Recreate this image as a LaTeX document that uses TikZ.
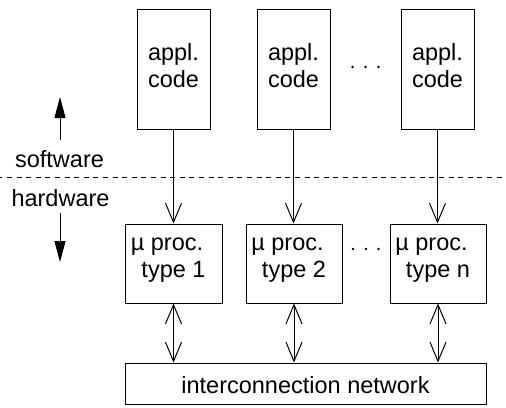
\documentclass[tikz,border=0pt]{standalone}
\usepackage{fontspec}
\setmainfont{Liberation Sans}
\usetikzlibrary{arrows.meta}

\tikzset{
  box/.style={draw, line width=1pt, inner sep=0pt, anchor=center},
  codebox/.style={box, minimum width=73pt, minimum height=120pt},
  procbox/.style={box, minimum width=96pt, minimum height=79pt},
  txt/.style={anchor=base, inner sep=0pt, font=\fontsize{23.5}{27}\selectfont},
  link/.style={line width=1pt, -{Straight Barb[length=19pt,width=16pt]}},
  duplex/.style={line width=1pt, {Straight Barb[length=19pt,width=16pt]}-{Straight Barb[length=19pt,width=16pt]}},
  layer/.style={line width=1pt, -{Triangle[length=21pt,width=11pt]}},
  dotmark/.style={circle, fill, inner sep=0pt, minimum size=2.6pt},
}

\begin{document}
\begin{tikzpicture}[x=1pt, y=-1pt]
  \useasboundingbox (0,0) rectangle (506,407);

  % application code blocks
  \node[codebox] (c1) at (173.5,69) {};
  \node[codebox] (c2) at (293.5,69) {};
  \node[codebox] (c3) at (437.5,69) {};
  \foreach \n/\x in {1/173.5, 2/293.5, 3/437.5} {
    \node[txt] (c\n a) at (\x,60) {appl.};
    \node[txt] (c\n b) at (\x,87) {code};
  }
  \node[dotmark] (cd1) at (352.5,67) {};
  \node[dotmark] (cd2) at (365.5,67) {};
  \node[dotmark] (cd3) at (378.5,67) {};

  % software / hardware boundary
  \coordinate (bl) at (0,177);
  \coordinate (br) at (506,177);
  \draw[line width=0.9pt, dash pattern=on 5pt off 4.6pt, dash phase=-7pt] (bl) -- (br);
  \node[txt] (sw) at (59.5,167) {software};
  \node[txt] (hw) at (60.5,206) {hardware};
  \coordinate (up0) at (60,140);
  \coordinate (up1) at (60,97);
  \coordinate (dn0) at (60,213);
  \coordinate (dn1) at (60,262);
  \draw[layer] (up0) -- (up1);
  \draw[layer] (dn0) -- (dn1);

  % processors
  \node[procbox, minimum width=97pt] (p1) at (173.5,263.5) {};
  \node[procbox] (p2) at (294,263.5) {};
  \node[procbox] (p3) at (438,263.5) {};
  \foreach \n/\x/\t in {1/173.5/1, 2/294/2, 3/438/n} {
    \node[txt] (p\n a) at (\x-6.5,250) {µ proc.};
    \node[txt] (p\n b) at (\x,277) {type \t};
  }
  \node[dotmark] (pd1) at (353,249) {};
  \node[dotmark] (pd2) at (366,249) {};
  \node[dotmark] (pd3) at (378.5,249) {};

  % interconnection network
  \node[box, minimum width=361pt, minimum height=41pt] (net) at (305.5,383.5) {};
  \node[txt] (nett) at (305.5,393) {interconnection network};

  % mapping of code onto processors
  \draw[link] (c1.south) -- (c1.south |- p1.north);
  \draw[link] (c2.south) -- (c2.south |- p2.north);
  \draw[link] (c3.south) -- (c3.south |- p3.north);

  % processor to network links
  \draw[duplex] (p1.south) -- (p1.south |- net.north);
  \draw[duplex] (p2.south) -- (p2.south |- net.north);
  \draw[duplex] (p3.south) -- (p3.south |- net.north);
\end{tikzpicture}
\end{document}
